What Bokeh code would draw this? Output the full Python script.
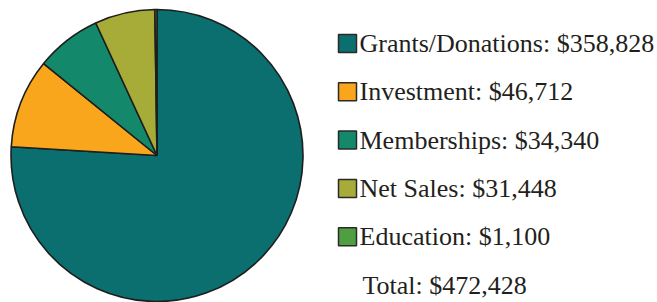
import numpy as np
from bokeh.plotting import figure
from bokeh.models import ColumnDataSource, Range1d
from bokeh.core.properties import value
from bokeh.embed import file_html
from bokeh.resources import INLINE

# ---- data ----
categories = ["Grants/Donations", "Investment", "Memberships", "Net Sales", "Education"]
amounts = [358828, 46712, 34340, 31448, 1100]
colors = ["#0b6e6f", "#f9a61c", "#14886b", "#a7ab38", "#4f9e41"]
total_label = "Total"

W, H = 657, 302
p = figure(width=W, height=H, output_backend="svg", toolbar_location=None,
           x_range=Range1d(0, W), y_range=Range1d(0, H), min_border=0)
p.axis.visible = False
p.grid.visible = False
p.outline_line_color = None
p.background_fill_color = "white"
p.border_fill_color = "white"

# ---- pie ----
vals = np.array(amounts, dtype=float)
total = vals.sum()
frac_cum = np.concatenate([[0], np.cumsum(vals) / total])
start = np.pi / 2 - frac_cum[:-1] * 2 * np.pi
end = np.pi / 2 - frac_cum[1:] * 2 * np.pi
cx, cy, r = 156.5, H - 155, 146
src = ColumnDataSource(dict(start=start, end=end, color=colors))
p.wedge(x=cx, y=cy, radius=r, start_angle="start", end_angle="end",
        direction="clock", fill_color="color", line_color="#1e1e1e",
        line_width=1.6, source=src)

# ---- legend ----
row0, step = 43, 48.3
sq_x = 347
n = len(categories)
ys = [H - (row0 + i * step) for i in range(n)]
p.rect(x=[sq_x] * n, y=ys, width=18, height=18, fill_color=colors,
       line_color="#2a2a2a", line_width=1.5)
labels = [f"{c}: ${a:,}" for c, a in zip(categories, amounts)]
p.text(x=[359] * n, y=ys, text=labels,
       text_font=value("Liberation Serif"), text_font_size="26px",
       text_color="#231f20", text_baseline="middle", text_align="left")
p.text(x=[362], y=[H - (row0 + n * step)], text=[f"{total_label}: ${int(total):,}"],
       text_font=value("Liberation Serif"), text_font_size="26px",
       text_color="#231f20", text_baseline="middle", text_align="left")

tpl = "{% block postamble %}<style>html,body{margin:0;padding:0;overflow:hidden;}</style>{% endblock %}"
open("out.html", "w").write(file_html(p, INLINE, template=tpl))
